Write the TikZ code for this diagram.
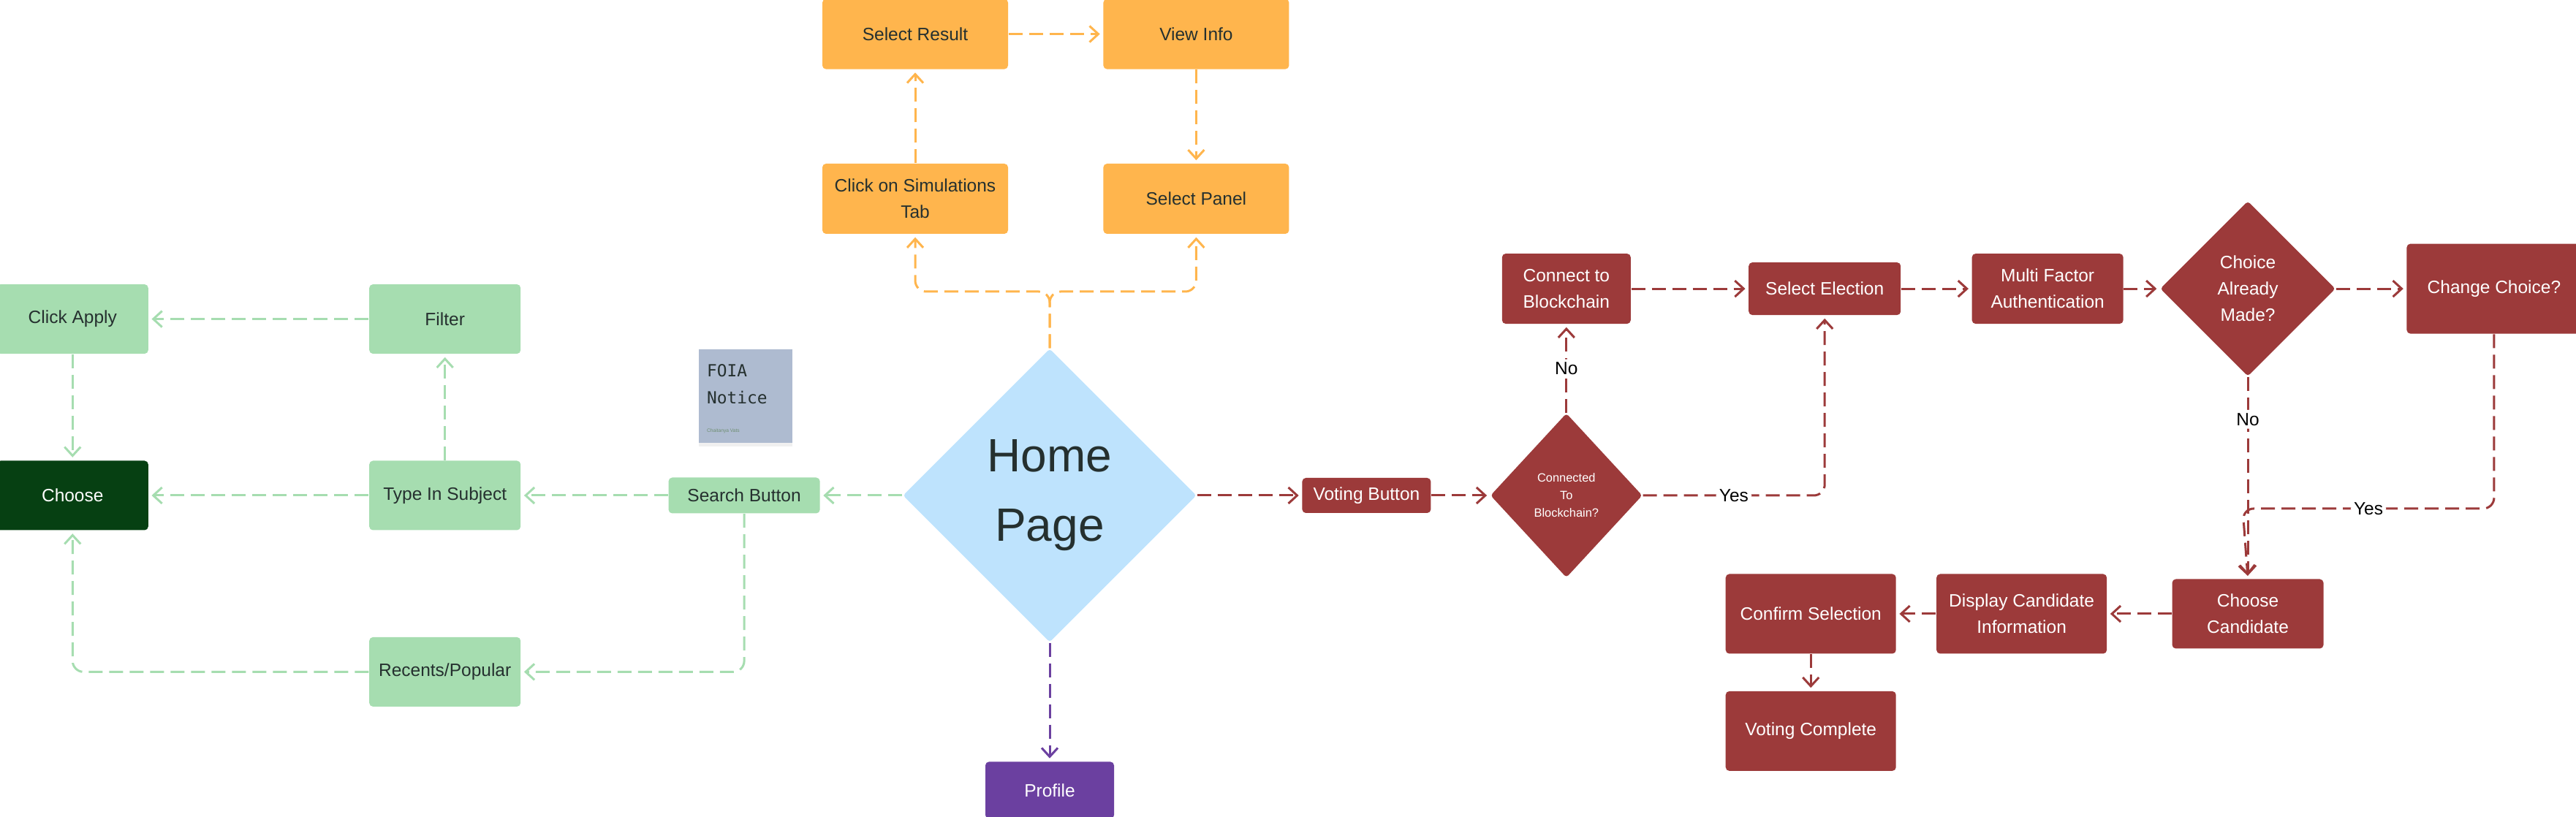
\documentclass[tikz,border=0pt]{standalone}
\usepackage{fontspec}
\setmainfont{Liberation Sans}
\newfontfamily\notemono{DejaVu Sans Mono}
\usepackage{xcolor}
\usepackage{tikz}
\usetikzlibrary{arrows.meta,positioning,shapes.geometric,shadows}
\definecolor{leaf}{HTML}{A6DDB0}
\definecolor{forest}{HTML}{064012}
\definecolor{amber}{HTML}{FFB54D}
\definecolor{sky}{HTML}{BEE3FD}
\definecolor{brick}{HTML}{9C3A3A}
\definecolor{grape}{HTML}{6B40A0}
\definecolor{slate}{HTML}{AEBBD0}
\definecolor{ink}{HTML}{25302F}
\definecolor{moss}{HTML}{6F8F72}
\newcommand{\flowtext}{\fontsize{6.97}{10.24}\selectfont}
\newcommand{\hometext}{\fontsize{18.2}{27}\selectfont}
\newcommand{\asktext}{\fontsize{4.67}{6.83}\selectfont}
\newcommand{\memotext}{\notemono\fontsize{6.5}{10.5}\selectfont}
\newcommand{\signtext}{\fontsize{1.9}{2.2}\selectfont}

\begin{document}
\begin{tikzpicture}[node distance=1cm]
  \tikzstyle{box}=[rectangle, rounded corners=0.5mm, inner sep=0pt, align=center, font=\flowtext]
  \tikzstyle{gbox}=[box, fill=leaf, text=ink, minimum width=2.07cm, minimum height=0.95cm]
  \tikzstyle{obox}=[box, fill=amber, text=ink, minimum width=2.54cm, minimum height=0.96cm]
  \tikzstyle{rbox}=[box, fill=brick, text=white, minimum width=2.07cm, minimum height=0.96cm]
  \tikzstyle{decide}=[diamond, inner sep=0pt, rounded corners=0.4mm, align=center]
  \tikzstyle{memo}=[rectangle, fill=slate, minimum width=1.28cm, minimum height=1.28cm, inner sep=0pt, drop shadow={shadow xshift=0mm, shadow yshift=-0.5mm, opacity=0.12}]
  \tikzstyle{flow}=[line width=0.3mm, dash pattern=on 1.9mm off 0.9mm, rounded corners=1.5mm, -{Straight Barb[length=1.2mm, width=2.2mm]}, shorten >=0.4mm]
  \tikzstyle{gflow}=[flow, color=leaf]
  \tikzstyle{oflow}=[flow, color=amber]
  \tikzstyle{rflow}=[flow, color=brick]
  \tikzstyle{pflow}=[flow, color=grape]
  \tikzstyle{tag}=[fill=white, inner sep=1.2pt, text=black, font=\flowtext]

  \useasboundingbox (0,0) rectangle (35.24,-11.18);

  \node[decide, fill=sky, text=ink, font=\hometext, minimum width=4.02cm, minimum height=4.02cm] (home) at (14.36,-6.78) {Home\\Page};

  \node[gbox, left=1.12cm of home, minimum height=0.49cm] (search) {Search Button};
  \node[gbox, left=2.01cm of search] (typein) {Type In Subject};
  \node[gbox, left=3.01cm of typein, fill=forest, text=white] (choose) {Choose};
  \node[gbox, above=1.45cm of typein] (filter) {Filter};
  \node[gbox, left=3.01cm of filter] (apply) {Click Apply};
  \node[gbox, below=1.45cm of typein] (recents) {Recents/Popular};

  \node[memo] (foia) at (10.20,-5.42) {};
  \node[font=\memotext, text=ink, align=left, inner sep=0pt, anchor=north west] (foiatitle) at ([shift={(0.11,-0.21)}]foia.north west) {FOIA\\Notice};
  \node[font=\signtext, text=moss, inner sep=0pt, anchor=base west] (foiasign) at ([shift={(0.11,-1.14)}]foia.north west) {Chaitanya Vats};

  \node[obox] (simtab) at (12.52,-2.72) {Click on Simulations\\Tab};
  \node[obox, above=1.28cm of simtab] (result) {Select Result};
  \node[obox, right=1.29cm of result] (info) {View Info};
  \node[obox, below=1.28cm of info] (panel) {Select Panel};
  \coordinate (fork) at (14.36,-3.99);

  \node[box, fill=grape, text=white, minimum width=1.76cm, minimum height=0.78cm, below=1.62cm of home] (profile) {Profile};

  \node[rbox, right=1.43cm of home, minimum width=1.76cm, minimum height=0.48cm] (voting) {Voting Button};
  \node[decide, fill=brick, text=white, font=\asktext, minimum width=2.08cm, minimum height=2.25cm, right=0.8cm of voting] (linked) {Connected\\To\\Blockchain?};
  \node[rbox, minimum width=1.76cm, above=1.21cm of linked] (connect) {Connect to\\Blockchain};
  \node[rbox, minimum width=2.08cm, minimum height=0.72cm, right=1.6cm of connect] (election) {Select Election};
  \node[rbox, right=0.96cm of election] (mfa) {Multi Factor\\Authentication};
  \node[decide, fill=brick, text=white, font=\flowtext, minimum width=2.4cm, minimum height=2.4cm, right=0.49cm of mfa] (already) {Choice\\Already\\Made?};
  \node[rbox, minimum width=2.39cm, minimum height=1.23cm, right=0.96cm of already] (change) {Change Choice?};
  \node[rbox, minimum height=0.95cm, below=2.76cm of already] (candidate) {Choose\\Candidate};
  \node[rbox, minimum width=2.33cm, minimum height=1.09cm, left=0.88cm of candidate] (display) {Display Candidate\\Information};
  \node[rbox, minimum width=2.33cm, minimum height=1.09cm, left=0.54cm of display] (confirm) {Confirm Selection};
  \node[rbox, minimum width=2.33cm, minimum height=1.09cm, below=0.5cm of confirm] (complete) {Voting Complete};
  \coordinate (rejoin) at (30.68,-6.96);

  \draw[gflow] (home.west) -- (search.east);
  \draw[gflow] (search.west) -- (typein.east);
  \draw[gflow] (typein.west) -- (choose.east);
  \draw[gflow] (typein.north) -- (filter.south);
  \draw[gflow] (filter.west) -- (apply.east);
  \draw[gflow] (apply.south) -- (choose.north);
  \draw[gflow] (search.south) |- (recents.east);
  \draw[gflow] (recents.west) -| (choose.south);

  \draw[oflow] (home.north) -- (fork) -| (simtab.south);
  \draw[oflow] (home.north) -- (fork) -| (panel.south);
  \draw[oflow] (simtab.north) -- (result.south);
  \draw[oflow] (result.east) -- (info.west);
  \draw[oflow] (info.south) -- (panel.north);

  \draw[pflow] (home.south) -- (profile.north);

  \draw[rflow] (home.east) -- (voting.west);
  \draw[rflow] (voting.east) -- (linked.west);
  \draw[rflow] (linked.north) -- node[tag]{No} (connect.south);
  \draw[rflow] (linked.east) -| node[tag, pos=0.25]{Yes} (election.south);
  \draw[rflow] (connect.east) -- (election.west);
  \draw[rflow] (election.east) -- (mfa.west);
  \draw[rflow] (mfa.east) -- (already.west);
  \draw[rflow] (already.east) -- (change.west);
  \draw[rflow] (already.south) -- node[tag, pos=0.21]{No} (candidate.north);
  \draw[rflow] (change.south) |- node[tag, pos=0.75]{Yes} (rejoin) -- (candidate.north);
  \draw[rflow] (candidate.west) -- (display.east);
  \draw[rflow] (display.west) -- (confirm.east);
  \draw[rflow] (confirm.south) -- (complete.north);
\end{tikzpicture}
\end{document}
